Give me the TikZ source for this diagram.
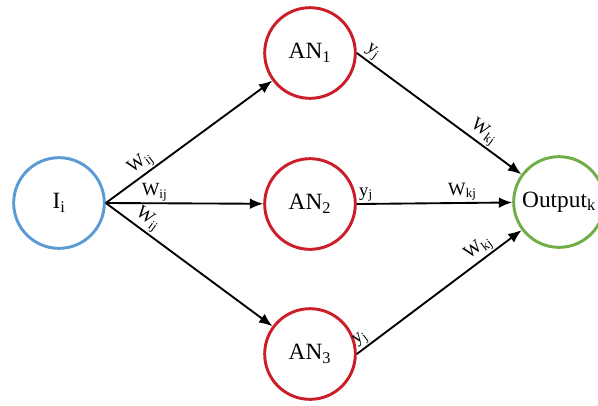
\documentclass[tikz,border=0pt]{standalone}
\usepackage{fontspec}
\setmainfont{Liberation Serif}
\usetikzlibrary{arrows.meta}
\definecolor{inblue}{RGB}{91,155,213}
\definecolor{anred}{RGB}{204,30,40}
\definecolor{outgreen}{RGB}{112,173,71}
\begin{document}
\begin{tikzpicture}[x=0.75pt,y=-0.75pt,
        neuron/.style={circle,line width=2.2pt,minimum size=68pt,inner sep=0pt,font=\fontsize{17.5}{19}\selectfont},
        link/.style={line width=1.4pt,-{Latex[length=10pt,width=8pt]}},
        wlabel/.style={sloped,above,inner sep=1pt,font=\fontsize{14}{16}\selectfont}]
        \useasboundingbox (0,0) rectangle (598,405);
        \node[neuron,draw=inblue] (I) at (59,203) {I\textsubscript{i}};
        \node[neuron,draw=anred] (AN1) at (310,53) {AN\textsubscript{1}};
        \node[neuron,draw=anred] (AN2) at (310,204) {AN\textsubscript{2}};
        \node[neuron,draw=anred] (AN3) at (310,354) {AN\textsubscript{3}};
        \node[neuron,draw=outgreen] (Out) at (559,202) {Output\textsubscript{k}};
        \draw[link] (I.east) -- node[wlabel,pos=0.25]{W\textsubscript{ij}} (AN1);
        \draw[link] (I.east) -- node[wlabel,pos=0.31]{W\textsubscript{ij}} (AN2);
        \draw[link] (I.east) -- node[wlabel,pos=0.21]{W\textsubscript{ij}} (AN3);
        \draw[link] (AN1.east) -- node[wlabel,pos=0.06]{y\textsubscript{j}} node[wlabel,pos=0.73]{W\textsubscript{kj}} (Out);
        \draw[link] (AN2.east) -- node[wlabel,pos=0.06]{y\textsubscript{j}} node[wlabel,pos=0.68]{W\textsubscript{kj}} (Out);
        \draw[link] (AN3.east) -- node[wlabel,pos=0.06]{y\textsubscript{j}} node[wlabel,pos=0.78]{W\textsubscript{kj}} (Out);
        \end{tikzpicture}
\end{document}
